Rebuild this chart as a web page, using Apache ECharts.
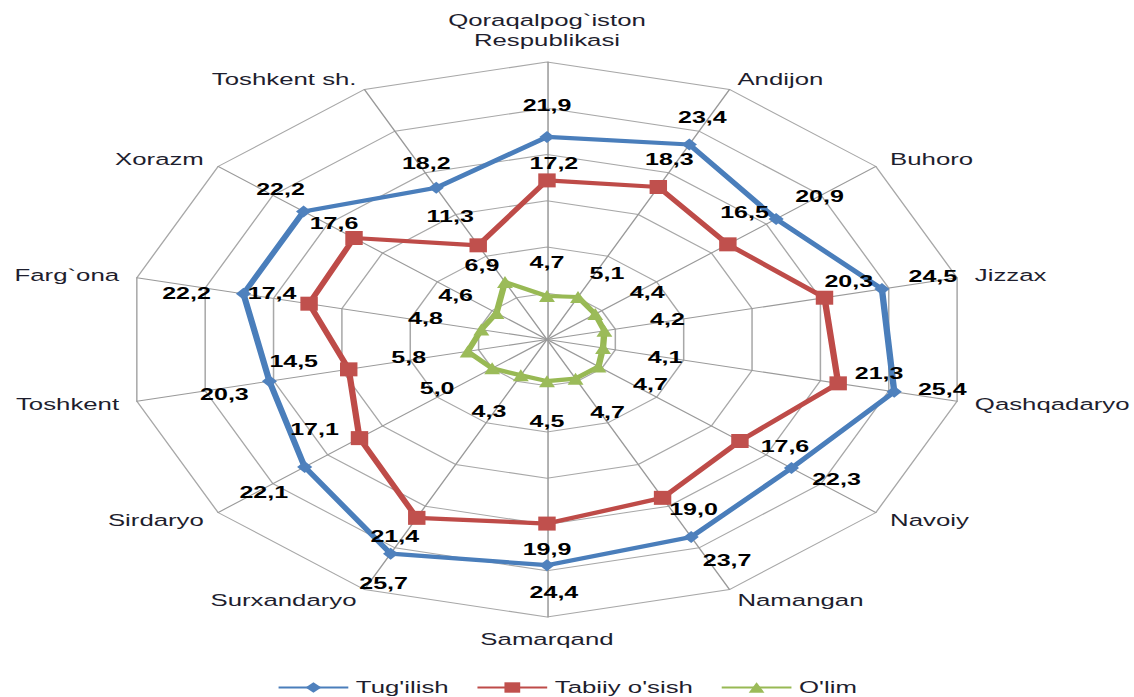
<!DOCTYPE html>
<html>
<head>
<meta charset="utf-8">
<script src="https://cdn.jsdelivr.net/npm/echarts@6/dist/echarts.min.js"></script>
<style>
  html, body { margin: 0; padding: 0; background: #fff; overflow: hidden; width: 1134px; height: 697px; }
  #chart { position: absolute; left: 0; top: 0; width: 748px; height: 697px; transform: scaleX(1.516); transform-origin: 0 0; }
</style>
</head>
<body>
<div id="chart"></div>
<script>
// ---- data ----
const categories = [
  "Qoraqalpog`iston\nRespublikasi", "Andijon", "Buhoro", "Jizzax", "Qashqadaryo",
  "Navoiy", "Namangan", "Samarqand", "Surxandaryo", "Sirdaryo",
  "Toshkent", "Farg`ona", "Xorazm", "Toshkent sh."
];
const seriesNames = ["Tug'ilish", "Tabiiy o'sish", "O'lim"];
const tugilish = [21.9, 23.4, 20.9, 24.5, 25.4, 22.3, 23.7, 24.4, 25.7, 22.1, 20.3, 22.2, 22.2, 18.2];
const tabiiyOsish = [17.2, 18.3, 16.5, 20.3, 21.3, 17.6, 19.0, 19.9, 21.4, 17.1, 14.5, 17.4, 17.6, 11.3];
const olim = [4.7, 5.1, 4.4, 4.2, 4.1, 4.7, 4.7, 4.5, 4.3, 5.0, 5.8, 4.8, 4.6, 6.9];
const axisMin = 0, axisMax = 30, axisSplits = 6;

// ---- label placement (style, not data) ----
const blueOff = [[0,-32],[8.6,-27],[28.6,-23],[33.6,-13],[31.7,-3],[29.7,11],[23.7,23],[4.6,27],[-4.6,29],[-27,25],[-29.7,13],[-37.6,-1],[-15.2,-22],[-6.6,-25]];
const redOff = [[4.6,-17],[7.3,-28],[11,-32],[16,-17],[27,-10],[29.7,5],[20.4,11],[0,26],[-14.5,18],[-29.7,-9],[-36.3,-8],[-24.4,-11],[-13.2,-15],[-18.5,-29]];
const greenOff = [[0,-34],[19.1,-24],[34.3,-22],[41.6,-12],[40.9,9],[34.3,18],[21.1,33],[0,40],[-21,36],[-36.3,20],[-38.9,6],[-36.9,-11],[-27,-18],[-15.2,-17]];

const CX = 360.8, CY = 339.5, R = 277.5;
const FONT = "'Liberation Sans', Arial, sans-serif";
const n = categories.length;

// radar draws counter-clockwise; reverse order (keeping the first) so it runs clockwise
const radarOrder = [0].concat(categories.slice(1).map((_, i) => n - 1 - i));
const indicators = radarOrder.map(i => ({ name: categories[i], min: axisMin, max: axisMax }));

function fmt(v) { return v.toFixed(1).replace('.', ','); }

function buildData(vals, offs) {
  const d = vals.map((v, i) => ({ value: [v, i], label: { offset: offs[i] } }));
  d.push({ value: [vals[0], n], label: { show: false }, symbol: 'none' });
  return d;
}

function lineSeries(name, vals, offs, color, markerColor, symbol, size) {
  return {
    name: name,
    type: 'line',
    coordinateSystem: 'polar',
    data: buildData(vals, offs),
    symbol: symbol,
    symbolSize: size,
    showAllSymbol: true,
    lineStyle: { color: color, width: 4.2 },
    itemStyle: { color: markerColor },
    label: {
      show: true,
      position: 'inside',
      formatter: p => fmt(p.value[0]),
      color: '#000',
      fontWeight: 'bold',
      fontSize: 16.5,
      fontFamily: FONT
    },
    emphasis: { disabled: true },
    animation: false,
    z: 3
  };
}

const chart = echarts.init(document.getElementById('chart'), null, { renderer: 'svg' });
chart.setOption({
  animation: false,
  backgroundColor: '#fff',
  radar: {
    center: [CX, CY],
    radius: R,
    startAngle: 90,
    splitNumber: axisSplits,
    shape: 'polygon',
    indicator: indicators,
    nameGap: 12,
    axisName: { color: '#1e1e2e', fontSize: 17, fontFamily: FONT, lineHeight: 20 },
    axisLine: { lineStyle: { color: '#9a9a9a', width: 1 } },
    splitLine: { lineStyle: { color: '#a8a8a8', width: 1 } },
    splitArea: { show: false },
    z: 0
  },
  polar: { center: [CX, CY], radius: R },
  angleAxis: {
    type: 'value', min: 0, max: n, startAngle: 90, clockwise: true,
    axisLine: { show: false }, axisTick: { show: false }, axisLabel: { show: false }, splitLine: { show: false }
  },
  radiusAxis: {
    type: 'value', min: axisMin, max: axisMax,
    axisLine: { show: false }, axisTick: { show: false }, axisLabel: { show: false }, splitLine: { show: false }
  },
  legend: {
    data: seriesNames,
    left: 'center',
    top: 674,
    itemWidth: 46,
    itemHeight: 13,
    itemGap: 18,
    textStyle: { color: '#1e1e2e', fontSize: 17, fontFamily: FONT }
  },
  series: [
    lineSeries(seriesNames[0], tugilish, blueOff, '#4A7EBB', '#4F81BD', 'diamond', [10, 12]),
    lineSeries(seriesNames[1], tabiiyOsish, redOff, '#BE4B48', '#C0504D', 'rect', [11.5, 14]),
    lineSeries(seriesNames[2], olim, greenOff, '#98B954', '#9BBB59', 'triangle', [10.5, 12])
  ]
});
</script>
</body>
</html>
